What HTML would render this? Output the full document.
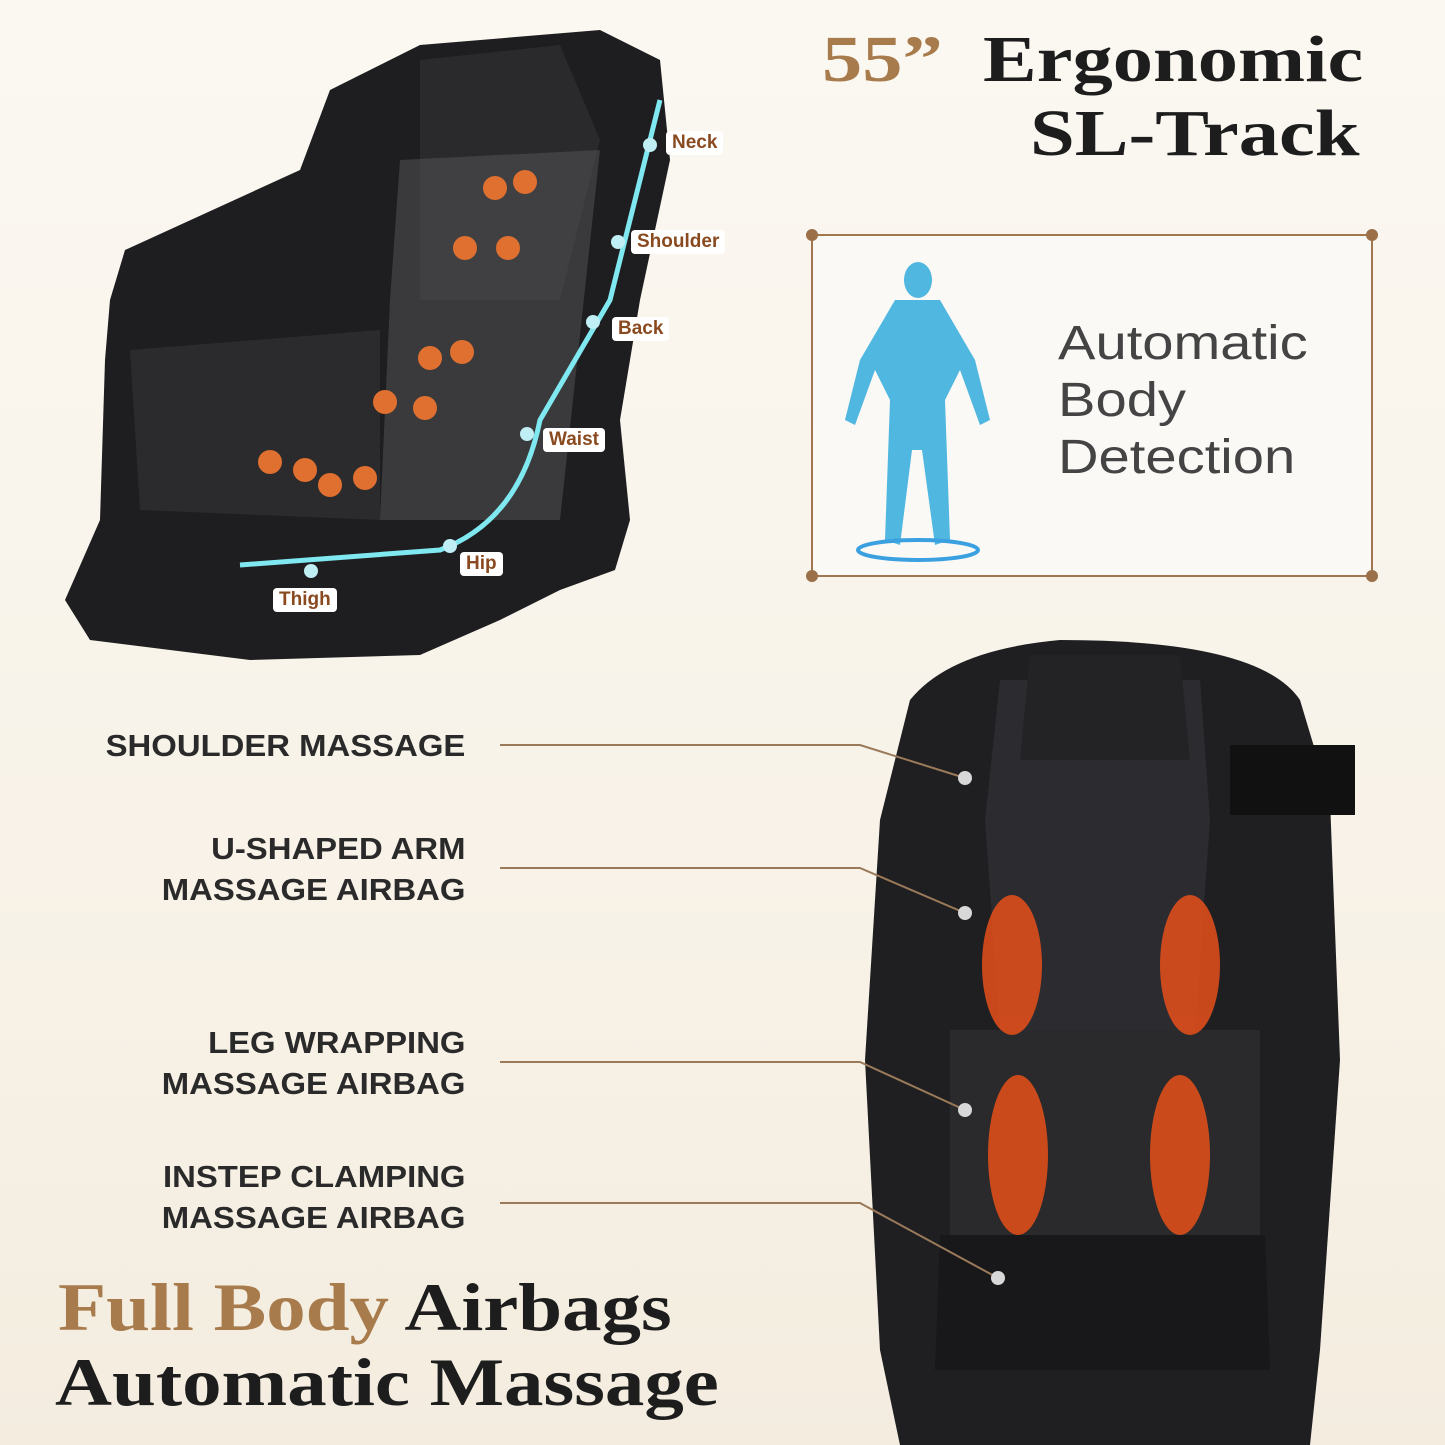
<!DOCTYPE html>
<html><head><meta charset="utf-8"><style>
html,body{margin:0;padding:0}
body{width:1445px;height:1445px;overflow:hidden;background:linear-gradient(#fbf8f2,#f7f1e6 70%,#f3ecdf);position:relative;font-family:"Liberation Sans",sans-serif}
.t{position:absolute;font-family:"Liberation Serif",serif;font-weight:bold;color:#1d1d1d;transform-origin:0 0;white-space:nowrap}
.lab{position:absolute;font-weight:bold;font-size:31px;color:#2a2a2a;text-align:right;line-height:41px;right:980px;transform-origin:100% 0;transform:scaleX(1.06)}
</style></head><body>
<svg width="1445" height="1445" style="position:absolute;left:0;top:0">
<path d="M110,300 L125,250 L300,170 L330,90 L420,45 L600,30 L660,60 L670,160 L640,300 L620,420 L630,520 L615,570 L560,590 L500,620 L420,655 L250,660 L90,640 L65,600 L100,520 L105,360 Z" fill="#1e1e20"/>
<path d="M130,350 L380,330 L380,520 L140,510 Z" fill="#2b2b2e"/>
<path d="M420,60 L560,45 L600,140 L560,300 L420,300 Z" fill="#2a2a2d"/>
<path d="M400,160 L600,150 L560,520 L380,520 L390,300 Z" fill="#55555a" opacity=".5"/>
<path d="M240,565 L440,550 Q520,520 540,420 L610,300 L660,100" stroke="#7fe8f0" stroke-width="5" fill="none"/>
<g fill="#e07030">
<circle cx="495" cy="188" r="12"/><circle cx="525" cy="182" r="12"/><circle cx="465" cy="248" r="12"/><circle cx="508" cy="248" r="12"/>
<circle cx="430" cy="358" r="12"/><circle cx="462" cy="352" r="12"/><circle cx="385" cy="402" r="12"/><circle cx="425" cy="408" r="12"/>
<circle cx="270" cy="462" r="12"/><circle cx="305" cy="470" r="12"/><circle cx="330" cy="485" r="12"/><circle cx="365" cy="478" r="12"/></g>
<g fill="#bfeef4"><circle cx="650" cy="145" r="7"/><circle cx="618" cy="242" r="7"/><circle cx="593" cy="322" r="7"/><circle cx="527" cy="434" r="7"/><circle cx="450" cy="546" r="7"/><circle cx="311" cy="571" r="7"/></g>
<rect x="812" y="235" width="560" height="341" fill="#fbf9f6" stroke="#a0774f" stroke-width="2"/>
<g fill="#9b7049"><circle cx="812" cy="235" r="6"/><circle cx="1372" cy="235" r="6"/><circle cx="812" cy="576" r="6"/><circle cx="1372" cy="576" r="6"/></g>
<g fill="#4fb7e0"><ellipse cx="918" cy="280" rx="14" ry="18"/><path d="M895,300 L940,300 L975,360 L990,420 L980,425 L960,370 L945,400 L950,540 L935,545 L922,450 L912,450 L900,545 L885,540 L890,400 L875,370 L855,425 L845,420 L860,360 Z"/></g>
<ellipse cx="918" cy="550" rx="60" ry="10" fill="none" stroke="#3aa0e0" stroke-width="4"/>
<path d="M910,700 Q950,650 1060,640 Q1260,640 1300,700 L1330,800 L1340,1060 L1320,1350 L1310,1445 L900,1445 L880,1350 L865,1060 L880,820 Z" fill="#1f1f22"/>
<path d="M1000,680 L1200,680 L1210,820 L1195,1030 L1000,1030 L985,820 Z" fill="#2c2c30"/>
<path d="M1030,655 L1180,655 L1190,760 L1020,760 Z" fill="#232326"/>
<path d="M950,1030 L1260,1030 L1260,1240 L950,1240 Z" fill="#2a2a2d"/>
<path d="M940,1235 L1265,1235 L1270,1370 L935,1370 Z" fill="#18181a"/>
<rect x="1230" y="745" width="125" height="70" fill="#111"/>
<g fill="#e8501a" opacity=".85"><ellipse cx="1012" cy="965" rx="30" ry="70"/><ellipse cx="1190" cy="965" rx="30" ry="70"/><ellipse cx="1018" cy="1155" rx="30" ry="80"/><ellipse cx="1180" cy="1155" rx="30" ry="80"/></g>
<g stroke="#9b7a5a" stroke-width="2" fill="none">
<path d="M500,745 L860,745 L965,778"/><path d="M500,868 L860,868 L965,913"/><path d="M500,1062 L860,1062 L965,1110"/><path d="M500,1203 L860,1203 L998,1278"/></g>
<g fill="#d8d8d8"><circle cx="965" cy="778" r="7"/><circle cx="965" cy="913" r="7"/><circle cx="965" cy="1110" r="7"/><circle cx="998" cy="1278" r="7"/></g>
</svg>
<div style="position:absolute;left:0;top:0;font-family:'Liberation Sans',sans-serif;font-weight:bold;font-size:19px;color:#8a4a20">
<span style="position:absolute;left:666px;top:131px;background:#fff;border-radius:4px;padding:1px 6px">Neck</span>
<span style="position:absolute;left:631px;top:230px;background:#fff;border-radius:4px;padding:1px 6px">Shoulder</span>
<span style="position:absolute;left:612px;top:317px;background:#fff;border-radius:4px;padding:1px 6px">Back</span>
<span style="position:absolute;left:543px;top:428px;background:#fff;border-radius:4px;padding:1px 6px">Waist</span>
<span style="position:absolute;left:460px;top:552px;background:#fff;border-radius:4px;padding:1px 6px">Hip</span>
<span style="position:absolute;left:273px;top:588px;background:#fff;border-radius:4px;padding:1px 6px">Thigh</span>
</div>
<div class="t" style="left:822px;top:22px;font-size:66px;transform:scaleX(1.22)"><span style="color:#a87b4c">55”</span>&nbsp; Ergonomic</div>
<div class="t" style="left:1030px;top:96px;font-size:66px;transform:scaleX(1.22)">SL-Track</div>
<div style="position:absolute;left:1058px;top:315px;font-size:48px;line-height:57px;color:#444;transform-origin:0 0;transform:scaleX(1.17)">Automatic<br>Body<br>Detection</div>
<div class="lab" style="top:725px">SHOULDER MASSAGE</div>
<div class="lab" style="top:828px">U-SHAPED ARM<br>MASSAGE AIRBAG</div>
<div class="lab" style="top:1022px">LEG WRAPPING<br>MASSAGE AIRBAG</div>
<div class="lab" style="top:1156px">INSTEP CLAMPING<br>MASSAGE AIRBAG</div>
<div class="t" style="left:58px;top:1268px;font-size:68px;transform:scaleX(1.16)"><span style="color:#a87b4c">Full Body</span> Airbags</div>
<div class="t" style="left:55px;top:1343px;font-size:68px;transform:scaleX(1.16)">Automatic Massage</div>
</body></html>
